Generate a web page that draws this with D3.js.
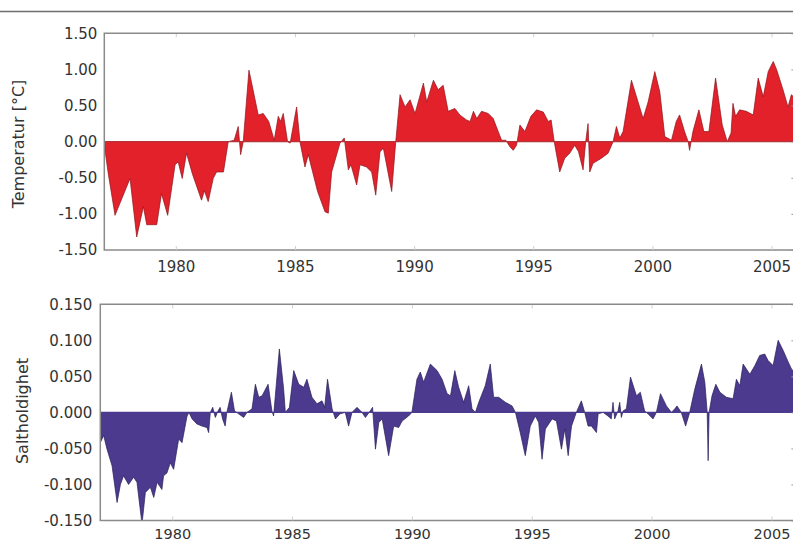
<!DOCTYPE html>
<html>
<head>
<meta charset="utf-8">
<script src="https://cdn.jsdelivr.net/npm/d3@7"></script>
<style>
  html, body { margin: 0; padding: 0; background: #fff; }
  svg { display: block; }
</style>
</head>
<body>
<svg id="chart" width="793" height="544"></svg>
<script>
// ---------------- DATA ----------------
const yearTicks = [1980, 1985, 1990, 1995, 2000, 2005];

const tempTicks = [1.5, 1.0, 0.5, 0.0, -0.5, -1.0, -1.5];
const tempTickLabels = ["1.50", "1.00", "0.50", "0.00", "-0.50", "-1.00", "-1.50"];
const tempTitle = "Temperatur [°C]";

const tempYears = [
  1977.0, 1977.17, 1977.45, 1978.08, 1978.36, 1978.64, 1978.78, 1979.2, 1979.4, 1979.66,
  1979.97, 1980.1, 1980.27, 1980.45, 1980.7, 1981.08, 1981.2, 1981.36, 1981.57, 1981.71,
  1982.0, 1982.2, 1982.45, 1982.62, 1982.72, 1982.83, 1983.07, 1983.46, 1983.67, 1983.9,
  1984.13, 1984.3, 1984.4, 1984.51, 1984.69, 1984.8, 1985.07, 1985.21, 1985.42, 1985.56,
  1985.95, 1986.26, 1986.4, 1986.54, 1986.89, 1987.07, 1987.24, 1987.35, 1987.59, 1987.73,
  1988.0, 1988.22, 1988.39, 1988.57, 1988.71, 1989.06, 1989.23, 1989.41, 1989.62, 1989.83,
  1990.04, 1990.39, 1990.53, 1990.81, 1991.01, 1991.22, 1991.43, 1991.71, 1991.92, 1992.2,
  1992.35, 1992.49, 1992.63, 1992.83, 1993.11, 1993.32, 1993.53, 1993.67, 1993.85, 1994.02,
  1994.16, 1994.3, 1994.44, 1994.65, 1994.9, 1995.14, 1995.42, 1995.63, 1995.75, 1995.88,
  1996.11, 1996.32, 1996.53, 1996.74, 1996.9, 1997.09, 1997.2, 1997.3, 1997.37, 1997.51,
  1997.86, 1998.14, 1998.35, 1998.49, 1998.63, 1998.77, 1999.12, 1999.61, 1999.82, 2000.1,
  2000.31, 2000.52, 2000.8, 2001.0, 2001.14, 2001.35, 2001.5, 2001.56, 2001.7, 2001.95,
  2002.16, 2002.37, 2002.65, 2002.93, 2003.14, 2003.3, 2003.38, 2003.49, 2003.66, 2003.94,
  2004.23, 2004.44, 2004.65, 2004.86, 2005.07, 2005.21, 2005.48, 2005.69, 2005.83, 2006.0
];
const tempValues = [
  -0.05, -0.45, -1.02, -0.51, -1.32, -0.90, -1.15, -1.15, -0.72, -1.02,
  -0.32, -0.28, -0.51, -0.16, -0.45, -0.81, -0.68, -0.83, -0.51, -0.42,
  -0.42, 0.00, 0.02, 0.21, -0.18, 0.00, 0.99, 0.37, 0.39, 0.28,
  0.02, 0.35, 0.28, 0.39, 0.00, -0.02, 0.48, 0.00, -0.35, -0.18,
  -0.69, -0.97, -0.99, -0.42, -0.02, 0.05, -0.39, -0.32, -0.60, -0.32,
  -0.35, -0.42, -0.74, -0.14, -0.09, -0.69, 0.00, 0.65, 0.48, 0.58,
  0.39, 0.81, 0.55, 0.85, 0.72, 0.78, 0.42, 0.46, 0.37, 0.30,
  0.28, 0.42, 0.32, 0.42, 0.39, 0.32, 0.14, 0.02, 0.02, -0.07,
  -0.12, -0.05, 0.23, 0.14, 0.35, 0.44, 0.41, 0.28, 0.30, 0.00,
  -0.42, -0.23, -0.16, -0.05, -0.14, -0.39, 0.00, 0.25, -0.42, -0.30,
  -0.23, -0.16, 0.00, 0.21, 0.05, 0.14, 0.85, 0.32, 0.55, 0.97,
  0.69, 0.07, 0.02, 0.28, 0.37, 0.14, 0.00, -0.12, 0.14, 0.44,
  0.14, 0.14, 0.88, 0.23, 0.00, 0.12, 0.53, 0.35, 0.44, 0.42,
  0.37, 0.88, 0.62, 0.97, 1.11, 1.00, 0.72, 0.48, 0.65, 0.60
];

const salTicks = [0.15, 0.10, 0.05, 0.0, -0.05, -0.10, -0.15];
const salTickLabels = ["0.150", "0.100", "0.050", "0.000", "-0.050", "-0.100", "-0.150"];
const salTitle = "Saltholdighet";

const salYears = [
  1977.0, 1977.14, 1977.28, 1977.49, 1977.7, 1977.84, 1977.97, 1978.18, 1978.39, 1978.53,
  1978.74, 1978.88, 1979.09, 1979.23, 1979.37, 1979.57, 1979.64, 1979.78, 1979.92, 1980.06,
  1980.27, 1980.41, 1980.62, 1980.7, 1980.83, 1981.03, 1981.24, 1981.45, 1981.52, 1981.59,
  1981.69, 1981.8, 1981.91, 1982.0, 1982.1, 1982.21, 1982.28, 1982.47, 1982.6, 1982.77,
  1982.98, 1983.12, 1983.33, 1983.47, 1983.61, 1983.75, 1984.0, 1984.16, 1984.23, 1984.47,
  1984.65, 1984.72, 1984.89, 1985.07, 1985.28, 1985.49, 1985.62, 1985.83, 1986.04, 1986.25,
  1986.36, 1986.48, 1986.67, 1986.81, 1987.0, 1987.22, 1987.36, 1987.5, 1987.71, 1987.92,
  1988.06, 1988.26, 1988.36, 1988.48, 1988.62, 1988.76, 1989.03, 1989.24, 1989.45, 1989.59,
  1989.86, 1990.0, 1990.21, 1990.35, 1990.49, 1990.59, 1990.77, 1991.05, 1991.26, 1991.47,
  1991.61, 1991.79, 1991.95, 1992.16, 1992.37, 1992.51, 1992.65, 1992.79, 1993.06, 1993.27,
  1993.41, 1993.62, 1993.9, 1994.18, 1994.32, 1994.52, 1994.73, 1994.94, 1995.15, 1995.29,
  1995.43, 1995.57, 1995.85, 1996.03, 1996.24, 1996.38, 1996.52, 1996.66, 1996.86, 1997.07,
  1997.21, 1997.35, 1997.49, 1997.7, 1997.77, 1997.98, 1998.18, 1998.32, 1998.39, 1998.46,
  1998.6, 1998.67, 1998.74, 1998.81, 1998.95, 1999.12, 1999.37, 1999.53, 1999.71, 1999.85,
  2000.06, 2000.2, 2000.37, 2000.62, 2000.83, 2000.97, 2001.06, 2001.24, 2001.42, 2001.59,
  2001.8, 2002.08, 2002.22, 2002.32, 2002.36, 2002.4, 2002.52, 2002.68, 2002.85, 2003.12,
  2003.4, 2003.54, 2003.68, 2003.82, 2004.1, 2004.31, 2004.51, 2004.72, 2004.86, 2005.07,
  2005.28, 2005.49, 2005.7, 2005.84, 2006.0
];
const salValues = [
  -0.042, -0.032, -0.051, -0.074, -0.125, -0.100, -0.088, -0.100, -0.090, -0.097,
  -0.155, -0.111, -0.104, -0.118, -0.097, -0.107, -0.088, -0.084, -0.070, -0.079,
  -0.037, -0.042, -0.005, 0.000, -0.009, -0.016, -0.019, -0.021, -0.028, 0.000,
  0.007, -0.007, 0.002, 0.007, -0.009, -0.019, 0.000, 0.028, 0.002, -0.002,
  -0.007, 0.000, 0.005, 0.039, 0.021, 0.023, 0.039, 0.002, -0.005, 0.088,
  0.032, 0.000, 0.007, 0.058, 0.039, 0.035, 0.046, 0.021, 0.012, 0.016,
  0.007, 0.046, 0.005, -0.009, -0.002, 0.000, -0.019, 0.000, 0.007, 0.000,
  -0.007, 0.002, 0.007, -0.051, -0.014, -0.009, -0.060, -0.019, -0.021, -0.012,
  -0.005, 0.000, 0.046, 0.056, 0.042, 0.051, 0.067, 0.058, 0.046, 0.026,
  0.023, 0.058, 0.035, 0.014, 0.037, 0.005, 0.000, 0.014, 0.037, 0.067,
  0.021, 0.021, 0.014, 0.009, 0.000, -0.028, -0.060, -0.019, -0.005, -0.014,
  -0.065, -0.023, -0.009, -0.012, -0.051, -0.023, -0.060, -0.019, 0.000, 0.016,
  0.000, -0.019, -0.019, -0.028, -0.002, 0.000, -0.005, -0.009, 0.014, -0.009,
  0.002, 0.014, -0.007, 0.002, 0.005, 0.049, 0.023, 0.028, 0.002, -0.002,
  -0.009, 0.000, 0.026, 0.009, 0.000, 0.005, 0.009, 0.000, -0.019, 0.000,
  0.032, 0.067, 0.042, 0.000, -0.067, 0.000, 0.023, 0.039, 0.028, 0.021,
  0.019, 0.046, 0.037, 0.067, 0.053, 0.065, 0.079, 0.081, 0.072, 0.065,
  0.100, 0.086, 0.070, 0.060, 0.055
];

// ---------------- DRAWING ----------------
const svg = d3.select("#chart");
const FONT = "'DejaVu Sans', sans-serif";
const TEXT = "#333333";

// page rule at top
svg.append("line")
  .attr("x1", 0).attr("x2", 793).attr("y1", 11.5).attr("y2", 11.5)
  .attr("stroke", "#6e6e6e").attr("stroke-width", 1.5);

function panel(cfg) {
  const x = d3.scaleLinear().domain([1977, 2006]).range([cfg.left, cfg.right]);
  const y = d3.scaleLinear().domain(cfg.domain).range([cfg.bottom, cfg.top]);
  const g = svg.append("g");

  const clipId = "clip" + cfg.id;
  svg.append("clipPath").attr("id", clipId)
    .append("rect").attr("x", cfg.left).attr("y", cfg.top)
    .attr("width", cfg.right - cfg.left).attr("height", cfg.bottom - cfg.top);

  const data = cfg.years.map((yr, i) => [yr, cfg.values[i]]);

  // faint year ticks at top (inward)
  const xTop = d3.axisTop(x).tickValues(yearTicks).tickSize(-4).tickFormat("");
  g.append("g").attr("transform", `translate(0,${cfg.top})`).call(xTop)
    .call(s => s.select(".domain").remove())
    .call(s => s.selectAll("line").attr("stroke", "#cfcfcf"));

  const plot = g.append("g").attr("clip-path", `url(#${clipId})`);

  const area = d3.area()
    .x(d => x(d[0])).y0(y(0)).y1(d => y(d[1]));
  plot.append("path").datum(data)
    .attr("d", area).attr("fill", cfg.fill);
  const line = d3.line().x(d => x(d[0])).y(d => y(d[1]));
  plot.append("path").datum(data)
    .attr("d", line).attr("fill", "none")
    .attr("stroke", cfg.edge).attr("stroke-width", 0.7).attr("stroke-linejoin", "round");
  plot.append("line")
    .attr("x1", cfg.left).attr("x2", cfg.right)
    .attr("y1", y(0)).attr("y2", y(0))
    .attr("stroke", cfg.zero).attr("stroke-width", 1.2);

  // right-side inward ticks
  const yRight = d3.axisRight(y).tickValues(cfg.ticks).tickSize(-4).tickFormat("");
  g.append("g").attr("transform", `translate(${cfg.right},0)`).call(yRight)
    .call(s => s.select(".domain").remove())
    .call(s => s.selectAll("line").attr("stroke", "#9a9a9a"));

  // frame (top, left, bottom)
  g.append("path")
    .attr("d", `M${cfg.right},${cfg.top}H${cfg.left}V${cfg.bottom}H${cfg.right}`)
    .attr("fill", "none").attr("stroke", "#8a8a8a").attr("stroke-width", 1.5);

  // left axis labels
  const yLeft = d3.axisLeft(y).tickValues(cfg.ticks).tickSize(0).tickPadding(cfg.labelPad)
    .tickFormat((d, i) => cfg.tickLabels[i]);
  g.append("g").attr("transform", `translate(${cfg.left},0)`).call(yLeft)
    .call(s => s.select(".domain").remove())
    .call(s => s.selectAll("text").attr("font-family", FONT).attr("font-size", 15)
      .attr("fill", TEXT));

  // bottom axis
  const xBottom = d3.axisBottom(x).tickValues(yearTicks).tickSize(-4).tickPadding(cfg.xPad)
    .tickFormat(d3.format("d"));
  g.append("g").attr("transform", `translate(0,${cfg.bottom})`).call(xBottom)
    .call(s => s.select(".domain").remove())
    .call(s => s.selectAll("line").attr("stroke", "#cfcfcf"))
    .call(s => s.selectAll("text").attr("font-family", FONT).attr("font-size", cfg.xFont)
      .attr("fill", TEXT));

  // axis title
  g.append("text")
    .attr("transform", `translate(${cfg.titleX},${cfg.titleY}) rotate(-90)`)
    .attr("text-anchor", "middle")
    .attr("font-family", FONT).attr("font-size", 16).attr("fill", TEXT)
    .text(cfg.title);
}

panel({
  id: "T", left: 104.3, right: 795.4, top: 33.3, bottom: 250,
  domain: [-1.5, 1.5], ticks: tempTicks, tickLabels: tempTickLabels,
  years: tempYears, values: tempValues,
  fill: "#e3212b", edge: "#8e141b", zero: "#b0343a",
  labelPad: 7, xPad: 11, xFont: 15,
  title: tempTitle, titleX: 24, titleY: 144
});

panel({
  id: "S", left: 100.3, right: 795.4, top: 304.3, bottom: 520.5,
  domain: [-0.15, 0.15], ticks: salTicks, tickLabels: salTickLabels,
  years: salYears, values: salValues,
  fill: "#4b3a8e", edge: "#2a1f58", zero: "#4b3a8e",
  labelPad: 8, xPad: 8.5, xFont: 14.5,
  title: salTitle, titleX: 28, titleY: 411
});
</script>
</body>
</html>
